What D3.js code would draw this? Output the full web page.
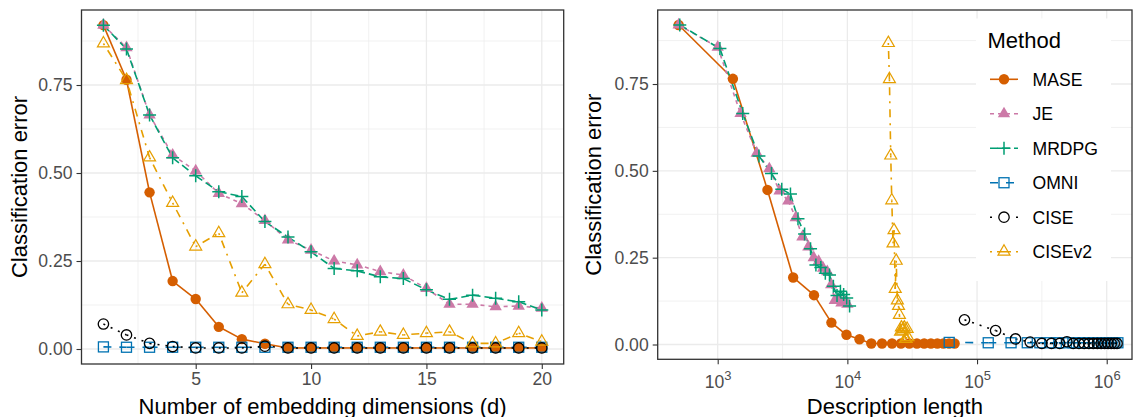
<!DOCTYPE html>
<html><head><meta charset="utf-8">
<script src="https://cdn.jsdelivr.net/npm/d3@7"></script>
<style>
body{margin:0;background:#fff}
text{font-family:"Liberation Sans",Arial,Helvetica,sans-serif}
</style>
</head><body>
<svg id="chart" width="1133" height="417"></svg>
<script>
// ---------------- data ----------------
const methods = ["MASE","JE","MRDPG","OMNI","CISE","CISEv2"];
const dims = [1,2,3,4,5,6,7,8,9,10,11,12,13,14,15,16,17,18,19,20];

const errMASE   = [0.920,0.765,0.445,0.193,0.142,0.063,0.028,0.015,0.003,0.003,0.003,0.003,0.003,0.003,0.003,0.003,0.003,0.003,0.003,0.003];
const errJE     = [0.920,0.856,0.665,0.551,0.506,0.442,0.413,0.365,0.310,0.281,0.250,0.239,0.220,0.210,0.172,0.127,0.127,0.120,0.122,0.116];
const errMRDPG  = [0.920,0.852,0.665,0.543,0.492,0.447,0.433,0.362,0.318,0.276,0.229,0.222,0.205,0.200,0.168,0.141,0.153,0.144,0.134,0.111];
const errOMNI   = [0.006,0.005,0.005,0.005,0.005,0.005,0.005,0.005,0.005,0.005,0.005,0.005,0.005,0.005,0.005,0.005,0.005,0.005,0.005,0.005];
const errCISE   = [0.071,0.040,0.016,0.007,0.003,0.003,0.003,0.008,0.003,0.003,0.003,0.003,0.003,0.003,0.003,0.003,0.003,0.003,0.003,0.003];
const errCISEv2 = [0.868,0.764,0.544,0.415,0.291,0.329,0.160,0.241,0.127,0.111,0.085,0.037,0.049,0.040,0.045,0.049,0.016,0.016,0.045,0.021];

const lenMASE   = [500,1310,2420,3820,5530,7530,9840,12400,15300,18500,22100,25900,30000,34400,39100,44100,49400,55000,60900,67100];
const lenJE     = [500,1000,1500,2000,2500,3000,3500,4000,4500,5000,5500,6000,6500,7000,7500,8000,8500,9000,9500,10000];
const lenMRDPG  = [510,1040,1560,2080,2600,3120,3640,4160,4680,5200,5720,6240,6760,7280,7800,8320,8840,9360,9880,10400];
const lenOMNI   = [61000,122000,183000,244000,305000,366000,427000,488000,549000,610000,671000,732000,793000,854000,915000,976000,1037000,1098000,1159000,1220000];
const lenCISE   = [80000,139000,198000,257000,316000,375000,434000,493000,552000,611000,670000,729000,788000,847000,906000,965000,1024000,1083000,1142000,1201000];
const lenCISEv2 = [20700,21100,21600,22000,22500,22900,23400,23800,24300,24800,25200,25700,26100,26600,27000,27500,28000,28400,28900,29300];

const xTicksLeft = [5,10,15,20];
const xMinorLeft = [2.5,7.5,12.5,17.5];
const yTicks = [0,0.25,0.5,0.75];
const yTickLabels = ["0.00","0.25","0.50","0.75"];
const yMinor = [0.125,0.375,0.625,0.875];
const xTicksRight = [1e3,1e4,1e5,1e6];
const xTickExpRight = ["3","4","5","6"];
const xMinorRight = [Math.pow(10,3.5),Math.pow(10,4.5),Math.pow(10,5.5)];

const errs = {MASE:errMASE, JE:errJE, MRDPG:errMRDPG, OMNI:errOMNI, CISE:errCISE, CISEv2:errCISEv2};
const lens = {MASE:lenMASE, JE:lenJE, MRDPG:lenMRDPG, OMNI:lenOMNI, CISE:lenCISE, CISEv2:lenCISEv2};

// ---------------- styles ----------------
const colors = {MASE:"#D55E00", JE:"#CC79A7", MRDPG:"#009E73", OMNI:"#0072B2", CISE:"#000000", CISEv2:"#E69F00"};
const dashes = {MASE:null, JE:"4,4", MRDPG:"8,4", OMNI:"8,8", CISE:"2,6", CISEv2:"2,6,8,6"};
const legendDashes = {MASE:null, JE:"4,4", MRDPG:"8,4", OMNI:"8,8", CISE:"2,24", CISEv2:"2,5,14,5,2"};

const svg = d3.select("#chart");
const FONT_TICK = 17.6, FONT_TITLE = 22;

function drawShape(g, m, x, y){
  const c = colors[m];
  if(m==="MASE"){
    g.append("circle").attr("cx",x).attr("cy",y).attr("r",5.2).attr("fill",c);
  } else if(m==="JE"){
    g.append("path").attr("d",d3.symbol(d3.symbolTriangle, 66)()).attr("transform",`translate(${x},${y})`).attr("fill",c);
  } else if(m==="MRDPG"){
    g.append("path").attr("d","M-6.5,0H6.5M0,-6.5V6.5").attr("transform",`translate(${x},${y})`).attr("stroke",c).attr("stroke-width",1.5).attr("fill","none");
  } else if(m==="OMNI"){
    g.append("rect").attr("x",x-5).attr("y",y-5).attr("width",10).attr("height",10).attr("fill","none").attr("stroke",c).attr("stroke-width",1.3);
  } else if(m==="CISE"){
    g.append("circle").attr("cx",x).attr("cy",y).attr("r",5.2).attr("fill","none").attr("stroke",c).attr("stroke-width",1.3);
  } else {
    g.append("path").attr("d",d3.symbol(d3.symbolTriangle, 62)()).attr("transform",`translate(${x},${y})`).attr("fill","none").attr("stroke",c).attr("stroke-width",1.2);
  }
}

function panel(opt){
  const {x, y, xvals, xTicks, xMinor, xLabel, superscript, titleX, titleYx} = opt;
  const [x0,x1] = x.range(); const [y1,y0] = y.range();
  const g = svg.append("g");
  // background
  g.append("rect").attr("x",x0).attr("y",y0).attr("width",x1-x0).attr("height",y1-y0).attr("fill","#fff");
  // minor grid
  const grid = g.append("g");
  xMinor.forEach(v=>grid.append("line").attr("x1",x(v)).attr("x2",x(v)).attr("y1",y0).attr("y2",y1).attr("stroke","#EBEBEB").attr("stroke-width",0.7));
  yMinor.forEach(v=>grid.append("line").attr("x1",x0).attr("x2",x1).attr("y1",y(v)).attr("y2",y(v)).attr("stroke","#EBEBEB").attr("stroke-width",0.7));
  xTicks.forEach(v=>grid.append("line").attr("x1",x(v)).attr("x2",x(v)).attr("y1",y0).attr("y2",y1).attr("stroke","#EBEBEB").attr("stroke-width",1.3));
  yTicks.forEach(v=>grid.append("line").attr("x1",x0).attr("x2",x1).attr("y1",y(v)).attr("y2",y(v)).attr("stroke","#EBEBEB").attr("stroke-width",1.3));
  // lines (per segment, dash pattern restarts at each point)
  const lg = g.append("g");
  methods.forEach(m=>{
    const xs = xvals[m], ys = errs[m];
    for(let i=0;i<xs.length-1;i++){
      const l = lg.append("line").attr("x1",x(xs[i])).attr("y1",y(ys[i])).attr("x2",x(xs[i+1])).attr("y2",y(ys[i+1]))
        .attr("stroke",colors[m]).attr("stroke-width",1.6).attr("fill","none");
      if(dashes[m]) l.attr("stroke-dasharray",dashes[m]);
    }
  });
  // points
  const pg = g.append("g");
  methods.forEach(m=>{
    const xs = xvals[m], ys = errs[m];
    xs.forEach((v,i)=>drawShape(pg, m, x(v), y(ys[i])));
  });
  // border
  g.append("rect").attr("x",x0).attr("y",y0).attr("width",x1-x0).attr("height",y1-y0).attr("fill","none").attr("stroke","#333333").attr("stroke-width",1.3);
  // axes
  const ax = g.append("g").attr("transform",`translate(0,${y1})`)
    .call(d3.axisBottom(x).tickValues(xTicks).tickSize(5).tickPadding(4).tickFormat(d=>superscript?"":String(d)));
  const ay = g.append("g").attr("transform",`translate(${x0},0)`)
    .call(d3.axisLeft(y).tickValues(yTicks).tickSize(5).tickPadding(4).tickFormat((d,i)=>yTickLabels[i]));
  [ax,ay].forEach(a=>{
    a.select(".domain").remove();
    a.selectAll(".tick line").attr("stroke","#333333").attr("stroke-width",1.1);
    a.selectAll(".tick text").attr("fill","#4D4D4D").style("font-size",FONT_TICK+"px").style("font-family",'"Liberation Sans",Arial,sans-serif');
  });
  if(superscript){
    ax.selectAll(".tick text").each(function(d,i){
      const t = d3.select(this).attr("dy",null).attr("y",29);
      t.append("tspan").text("10");
      t.append("tspan").attr("dy",-8).style("font-size","13px").text(xTickExpRight[i]);
    });
  }
  // titles
  g.append("text").attr("x",(x0+x1)/2).attr("y",413.5).attr("text-anchor","middle").style("font-size",FONT_TITLE+"px").attr("fill","#000").text(xLabel);
  g.append("text").attr("transform",`translate(${titleYx},${(y0+y1)/2}) rotate(-90)`).attr("text-anchor","middle").style("font-size",FONT_TITLE+"px").attr("fill","#000").text("Classification error");
  return g;
}

// ---------------- left panel ----------------
const xL = d3.scaleLinear().domain([0.05,20.95]).range([81.5,563.7]);
const yL = d3.scaleLinear().domain([-0.0426,0.9631]).range([364,10]);
const dimVals = {}; methods.forEach(m=>dimVals[m]=dims);
panel({x:xL, y:yL, xvals:dimVals, xTicks:xTicksLeft, xMinor:xMinorLeft, xLabel:"Number of embedding dimensions (d)", superscript:false, titleYx:27});

// ---------------- right panel ----------------
const xR = d3.scaleLog().domain([Math.pow(10,2.5373),Math.pow(10,6.195)]).range([657.7,1132]);
const yR = d3.scaleLinear().domain([-0.0426,0.9631]).range([359.3,10]);
panel({x:xR, y:yR, xvals:lens, xTicks:xTicksRight, xMinor:xMinorRight, xLabel:"Description length", superscript:true, titleYx:601});

// ---------------- legend ----------------
const leg = svg.append("g");
leg.append("rect").attr("x",976).attr("y",18.5).attr("width",135).attr("height",262.5).attr("fill","#fff");
leg.append("text").attr("x",987.5).attr("y",47.7).style("font-size",FONT_TITLE+"px").attr("fill","#000").text("Method");
const legY = d3.scalePoint().domain(methods).range([79.3,251.7]);
methods.forEach(m=>{
  const cy = legY(m);
  const l = leg.append("line").attr("x1",990).attr("x2",1018).attr("y1",cy).attr("y2",cy).attr("stroke",colors[m]).attr("stroke-width",1.6);
  if(legendDashes[m]) l.attr("stroke-dasharray",legendDashes[m]);
  drawShape(leg, m, 1004, cy);
  leg.append("text").attr("x",1032.5).attr("y",cy+6.3).style("font-size",FONT_TICK+"px").attr("fill","#000").text(m);
});
</script>
</body></html>
